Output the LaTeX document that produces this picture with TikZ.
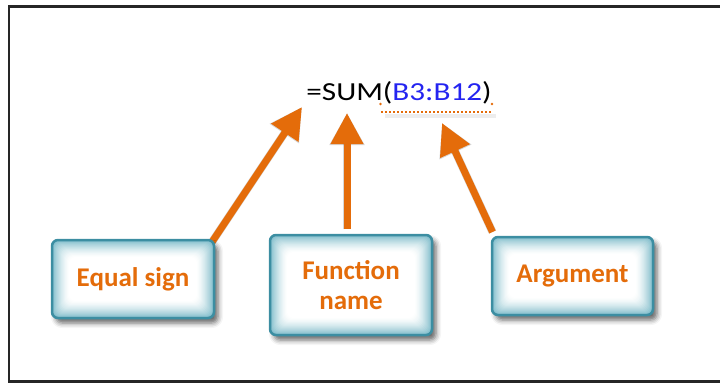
\documentclass[tikz,border=0pt]{standalone}
\usepackage{fontspec}
\usepackage{graphicx}
\setmainfont{Carlito}
\usetikzlibrary{arrows.meta,shadows.blur,calc}
\definecolor{orng}{HTML}{E46C0A}
\definecolor{tealb}{HTML}{3C8EA2}
\definecolor{glowc}{HTML}{7FBCCA}
\definecolor{refblue}{HTML}{2424F0}
\newcommand{\myboxfont}{\fontsize{27}{30}\selectfont\bfseries}
\tikzset{
  box/.style={draw=tealb, line width=2.5pt, rounded corners=6pt, fill=glowc,
    blur shadow={shadow xshift=4pt, shadow yshift=-5pt, shadow blur radius=5pt, shadow opacity=60},
    path picture={
      \foreach \i [evaluate=\i as \p using int(100*((18-\i)/18)^1.6)] in {0,...,17}{
        \fill[rounded corners=6pt, glowc!\p!white]
          ($(path picture bounding box.south west)+(\i*1pt,\i*1pt)$) rectangle
          ($(path picture bounding box.north east)-(\i*1pt,\i*1pt)$);
      }
    },
    font=\myboxfont, text=orng, align=center},
  arr/.style={line width=7pt, draw=orng, -{Triangle[width=31pt,length=31pt]}},
  arrshadow/.style={line width=8pt, draw=black, opacity=0.16, -{Triangle[width=33pt,length=32pt]}, shift={(3pt,-4pt)}},
  frame/.style={line width=2.5pt, draw=black!85}
}
\begin{document}
\begin{tikzpicture}[x=1pt,y=-1pt]
\useasboundingbox (0,0) rectangle (720,383);
\draw[frame] (720,6.5) -- (8.75,6.5) -- (8.75,381.5) -- (720,381.5);

% formula
\node[anchor=base, inner sep=0pt, font=\fontsize{26}{30}\selectfont] (f) at (399,100)
  {\scalebox{1.2}[1]{=SUM(\textcolor{refblue}{B3:B12})}};
\coordinate (u1) at (381,112);
\coordinate (u2) at (492,112);
\coordinate (u1s) at (385,116);
\coordinate (u2s) at (496,116);
\draw[black, opacity=0.07, line width=4pt] (u1s) -- (u2s);
\draw[orng, line width=2pt, dash pattern=on 1.5pt off 2.5pt] (u1) -- (u2);
\coordinate (d1) at (380.5,104);
\coordinate (d2) at (492,104);
\fill[orng] (d1) circle (1.3pt);
\fill[orng] (d2) circle (1.3pt);

% targets
\coordinate (t1) at (302,107);
\coordinate (t2) at (347,113);
\coordinate (t3) at (442,123);

% box centres
\path (133,279) coordinate (c1) (351,285) coordinate (c2) (572.5,276) coordinate (c3);

% arrows
\coordinate (s1) at ($(c1)+(79pt,37pt)$);
\coordinate (s2b) at (347,229);
\coordinate (s3) at ($(c3)+(-80pt,44pt)$);
\draw[arrshadow] (s1) -- (t1);
\draw[arrshadow] (s2b) -- (t2);
\draw[arrshadow] (s3) -- (t3);
\draw[arr] (s1) -- (t1);
\draw[arr] (s2b) -- (t2);
\draw[arr] (s3) -- (t3);

\node[box, minimum width=162pt, minimum height=78pt] (b1) at (c1) {Equal sign};
\node[box, minimum width=162pt, minimum height=100pt] (b2) at (c2) {Function\\name};
\node[box, minimum width=161pt, minimum height=78pt] (b3) at (c3) {Argument};
\end{tikzpicture}
\end{document}
